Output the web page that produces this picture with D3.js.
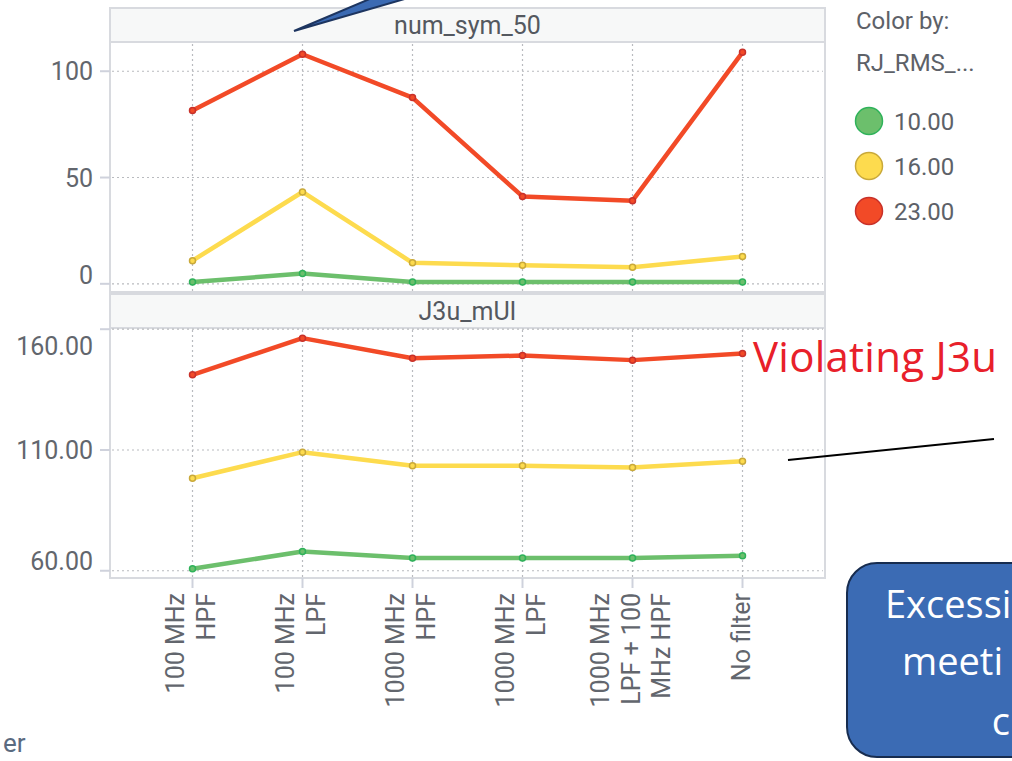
<!DOCTYPE html>
<html>
<head>
<meta charset="utf-8">
<script src="https://cdn.jsdelivr.net/npm/d3@7"></script>
<style>
  body { margin: 0; background: #fff; overflow: hidden; }
  svg { display: block; font-family: Roboto, "Noto Sans", sans-serif; }
</style>
</head>
<body>
<script>
// categories on x (filters) and how the labels wrap
var categories = ["100 MHz HPF", "100 MHz LPF", "1000 MHz HPF", "1000 MHz LPF", "1000 MHz LPF + 100 MHz HPF", "No filter"];
var categoryLines = [["100 MHz", "HPF"], ["100 MHz", "LPF"], ["1000 MHz", "HPF"], ["1000 MHz", "LPF"], ["1000 MHz", "LPF + 100", "MHz HPF"], ["No filter"]];

// color-by series
var seriesNames = ["10.00", "16.00", "23.00"];
var seriesColors = ["#6cbf6c", "#fddb4e", "#f24a27"];
var seriesDots = ["#2fb25a", "#c9a93a", "#c8312a"];

// num_sym_50 panel
var numSym10 = [0.8, 4.8, 0.8, 0.8, 0.8, 0.8];
var numSym16 = [10.9, 43.2, 9.9, 8.7, 7.8, 12.8];
var numSym23 = [81.5, 108, 87.6, 41.1, 39.1, 108.9];
var numSymTicks = [0, 50, 100];

// J3u_mUI panel
var j3u10 = [60.8, 68, 65.3, 65.3, 65.3, 66.2];
var j3u16 = [98.3, 109.1, 103.5, 103.5, 102.7, 105.3];
var j3u23 = [141.1, 156.3, 148, 149.1, 147.2, 149.9];
var j3uTicks = [60, 110, 160];

var W = 1012, H = 761;
var left = 110, right = 825;

var svg = d3.select("body").append("svg")
    .attr("width", W)
    .attr("height", H);

var xScale = d3.scalePoint().domain(categories).range([left, right]).padding(0.75);

var panels = [
    {title: "num_sym_50", top: 8, head: 34, bottom: 292, domain: [-3.85, 113.75],
     ticks: numSymTicks, fmt: d3.format("d"), series: [numSym10, numSym16, numSym23]},
    {title: "J3u_mUI", top: 294, head: 34, bottom: 578, domain: [57, 160.5],
     ticks: j3uTicks, fmt: d3.format(".2f"), series: [j3u10, j3u16, j3u23]}
];

panels.forEach(function(p) {
    var plotTop = p.top + p.head;
    var yScale = d3.scaleLinear().domain(p.domain).range([p.bottom, plotTop]);
    var g = svg.append("g");

    // header strip
    g.append("rect")
        .attr("x", left).attr("y", p.top)
        .attr("width", right - left).attr("height", p.head)
        .attr("fill", "#f7f8f8").attr("stroke", "#d8dadf").attr("stroke-width", 2);
    g.append("text")
        .attr("x", (left + right) / 2).attr("y", p.top + p.head / 2)
        .attr("dy", "0.36em")
        .attr("text-anchor", "middle")
        .attr("font-size", "25px")
        .attr("fill", "#54585f")
        .text(p.title);

    // plot frame
    g.append("rect")
        .attr("x", left).attr("y", plotTop)
        .attr("width", right - left).attr("height", p.bottom - plotTop)
        .attr("fill", "none").attr("stroke", "#d8dadf").attr("stroke-width", 2);

    // grid
    g.selectAll(".hgrid").data(p.ticks).enter().append("line")
        .attr("x1", left + 2).attr("x2", right - 2)
        .attr("y1", function(d) { return yScale(d); })
        .attr("y2", function(d) { return yScale(d); })
        .attr("stroke", "#b9bbbf").attr("stroke-width", 1.2)
        .attr("stroke-dasharray", "2,3");
    g.selectAll(".vgrid").data(categories).enter().append("line")
        .attr("x1", function(d) { return xScale(d); })
        .attr("x2", function(d) { return xScale(d); })
        .attr("y1", plotTop + 2).attr("y2", p.bottom - 1)
        .attr("stroke", "#b9bbbf").attr("stroke-width", 1.2)
        .attr("stroke-dasharray", "2,3");

    // y ticks + labels (labels kept inside the panel like spotfire does)
    g.selectAll(".ytick").data(p.ticks).enter().append("line")
        .attr("x1", left - 10).attr("x2", left)
        .attr("y1", function(d) { return yScale(d); })
        .attr("y2", function(d) { return yScale(d); })
        .attr("stroke", "#cfd2dc").attr("stroke-width", 2);
    g.selectAll(".ylab").data(p.ticks).enter().append("text")
        .attr("x", left - 17)
        .attr("y", function(d) {
            var y = yScale(d);
            return Math.max(plotTop + 18, Math.min(p.bottom - 17, y));
        })
        .attr("dy", "0.36em")
        .attr("text-anchor", "end")
        .attr("font-size", "25px")
        .attr("fill", "#62666d")
        .text(p.fmt);

    // lines
    var line = d3.line()
        .x(function(d, i) { return xScale(categories[i]); })
        .y(function(d) { return yScale(d); });

    p.series.forEach(function(vals, si) {
        g.append("path")
            .datum(vals)
            .attr("d", line)
            .attr("fill", "none")
            .attr("stroke", seriesColors[si])
            .attr("stroke-width", 4.5)
            .attr("stroke-linejoin", "round");
        g.selectAll(".pt" + si).data(vals).enter().append("circle")
            .attr("cx", function(d, i) { return xScale(categories[i]); })
            .attr("cy", function(d) { return yScale(d); })
            .attr("r", 3)
            .attr("fill", seriesColors[si])
            .attr("stroke", seriesDots[si])
            .attr("stroke-width", 1.5);
    });
});

// x axis ticks and wrapped, rotated labels
var axisY = panels[1].bottom;
svg.selectAll(".xtick").data(categories).enter().append("line")
    .attr("x1", function(d) { return xScale(d); })
    .attr("x2", function(d) { return xScale(d); })
    .attr("y1", axisY).attr("y2", axisY + 10)
    .attr("stroke", "#cfd2dc").attr("stroke-width", 2);

var xl = svg.selectAll(".xlab").data(categories).enter().append("g");
xl.each(function(d, ci) {
    var lines = categoryLines[ci];
    var n = lines.length;
    d3.select(this).selectAll("text").data(lines).enter().append("text")
        .attr("transform", function(t, i) {
            var bx = xScale(d) + (i - (n - 1) / 2) * 30.5 + 7;
            return "translate(" + bx + "," + (axisY + 15) + ") rotate(-90)";
        })
        .attr("text-anchor", "end")
        .attr("font-size", "25px")
        .attr("fill", "#62666d")
        .text(function(t) { return t; });
});

// legend
var lg = svg.append("g").attr("font-size", "24px").attr("fill", "#5d6168");
lg.append("text").attr("x", 856).attr("y", 29).text("Color by:");
lg.append("text").attr("x", 856).attr("y", 71).text("RJ_RMS_...");
var legendY = d3.scalePoint().domain(seriesNames).range([121, 211]);
seriesNames.forEach(function(s, i) {
    lg.append("circle")
        .attr("cx", 869).attr("cy", legendY(s)).attr("r", 13.5)
        .attr("fill", seriesColors[i]).attr("stroke", seriesDots[i]).attr("stroke-width", 1.5);
    lg.append("text")
        .attr("x", 894).attr("y", legendY(s)).attr("dy", "0.36em")
        .text(s);
});

// slide annotations around the chart
svg.append("path")
    .attr("d", "M294,31 L372,-2 L408,-2 Z")
    .attr("fill", "#3b6ab3").attr("stroke", "#1d3560").attr("stroke-width", 2);

svg.append("text")
    .attr("x", 753).attr("y", 372)
    .attr("font-family", "'Open Sans', 'Liberation Sans', sans-serif")
    .attr("font-size", "42px")
    .attr("textLength", 244)
    .attr("fill", "#e8202a")
    .text("Violating J3u");

svg.append("line")
    .attr("x1", 788).attr("y1", 460).attr("x2", 994).attr("y2", 439)
    .attr("stroke", "#000").attr("stroke-width", 2);

svg.append("rect")
    .attr("x", 847).attr("y", 563).attr("width", 220).attr("height", 194)
    .attr("rx", 30)
    .attr("fill", "#3b6bb4").attr("stroke", "#172c4f").attr("stroke-width", 2);
// the box runs off the slide edge, only the visible part of its words is kept
var boxText = svg.append("g")
    .attr("font-family", "'Open Sans', 'Liberation Sans', sans-serif")
    .attr("font-size", "38px")
    .attr("fill", "#fff");
boxText.append("text").attr("x", 885).attr("y", 618).text("Excessi");
boxText.append("text").attr("x", 902).attr("y", 675).text("meeti");
boxText.append("text").attr("x", 1010).attr("y", 735).attr("text-anchor", "end").text("c");

svg.append("text")
    .attr("x", 3).attr("y", 752)
    .attr("font-size", "26px")
    .attr("fill", "#5a6a80")
    .text("er");
</script>
</body>
</html>
